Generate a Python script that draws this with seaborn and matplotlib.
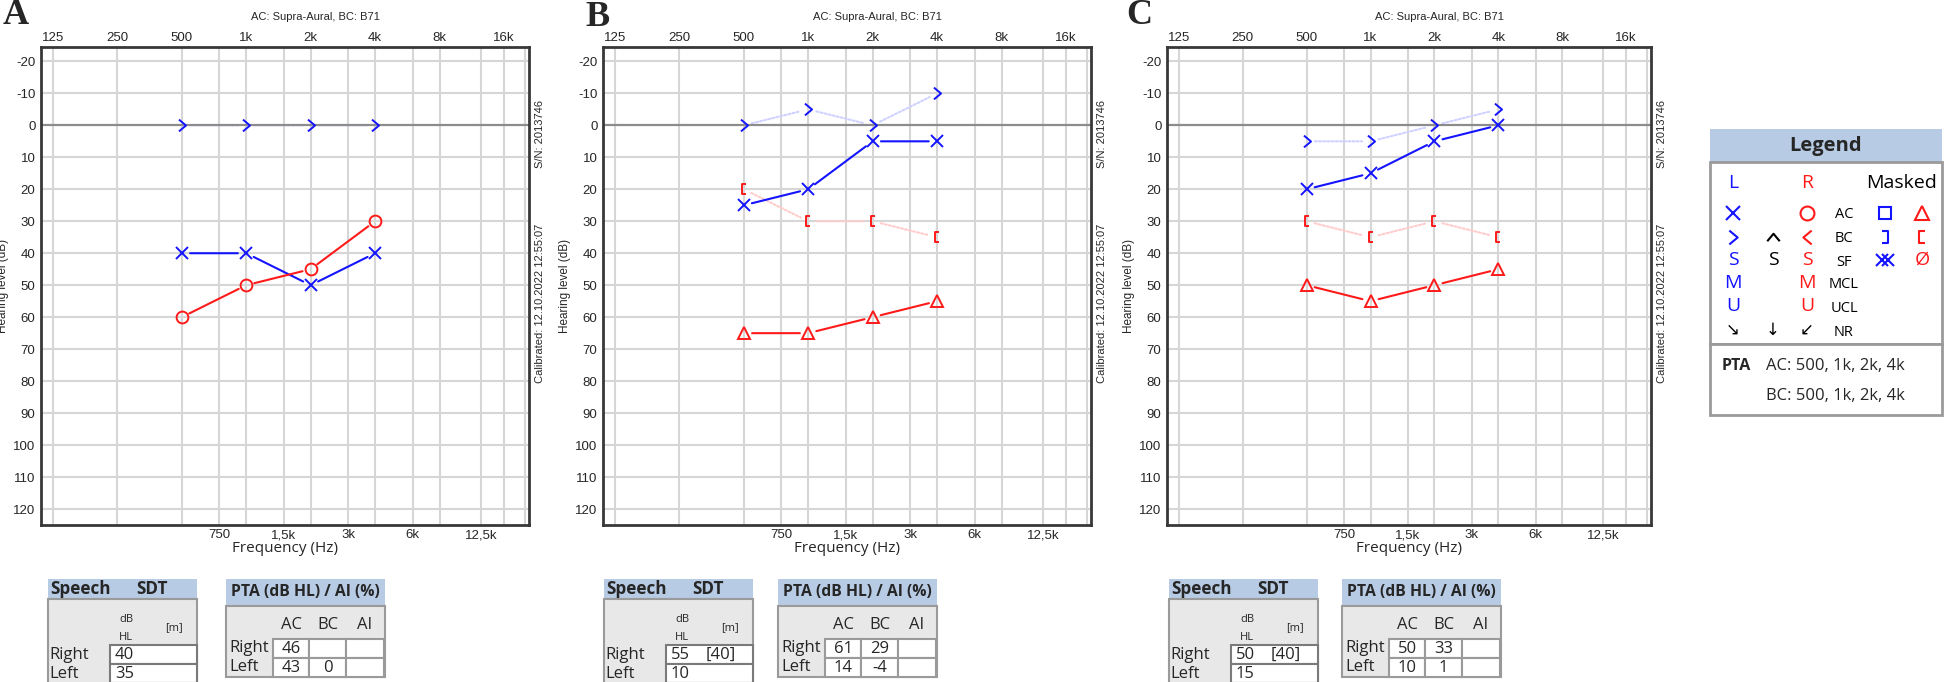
import matplotlib
matplotlib.use("Agg")
import matplotlib.pyplot as plt
from matplotlib.path import Path
from matplotlib.patches import Rectangle
from matplotlib.ticker import NullLocator
import seaborn as sns

# ---- data -------------------------------------------------------------
freqs = [500, 1000, 2000, 4000]

a_left_bc = [0, 0, 0, 0]
a_left_ac = [40, 40, 50, 40]
a_right_ac = [60, 50, 45, 30]

b_left_bc = [0, -5, 0, -10]
b_left_ac = [25, 20, 5, 5]
b_right_bc_masked = [20, 30, 30, 35]
b_right_ac_masked = [65, 65, 60, 55]

c_left_bc = [5, 5, 0, -5]
c_left_ac = [20, 15, 5, 0]
c_right_bc_masked = [30, 35, 30, 35]
c_right_ac_masked = [50, 55, 50, 45]

top_ticks = [125, 250, 500, 1000, 2000, 4000, 8000, 16000]
top_labels = ["125", "250", "500", "1k", "2k", "4k", "8k", "16k"]
bottom_ticks = [750, 1500, 3000, 6000, 12500]
bottom_labels = ["750", "1,5k", "3k", "6k", "12,5k"]
grid_freqs = top_ticks + bottom_ticks + [20000]
levels = list(range(-20, 130, 10))

sdt_right = [["40", ""], ["55", "[40]"], ["50", "[40]"]]
sdt_left = ["35", "10", "15"]
pta_right = [["46", ""], ["61", "29"], ["50", "33"]]
pta_left = [["43", "0"], ["14", "-4"], ["10", "1"]]

# ---- styles -----------------------------------------------------------
BLUE = "#1414ff"
RED = "#ff1a1a"
LBLUE = "#cfd1ff"
LRED = "#ffcccc"
GRID = "#d6d6d6"
ZERO = "#8c8c8c"
SPINE = "#383838"
HEAD = "#b8cbe4"
BODY = "#e8e8e8"
BORDER = "#9a9a9a"
UI = ["Open Sans", "DejaVu Sans"]

CHEV_R = Path([(-0.3, 0.5), (0.3, 0), (-0.3, -0.5)])
CHEV_L = Path([(0.3, 0.5), (-0.3, 0), (0.3, -0.5)])
CHEV_U = Path([(-0.5, -0.3), (0, 0.3), (0.5, -0.3)])
BRACK_L = Path([(0.22, 0.5), (-0.22, 0.5), (-0.22, -0.5), (0.22, -0.5)])
BRACK_R = Path([(-0.22, 0.5), (0.22, 0.5), (0.22, -0.5), (-0.22, -0.5)])

STYLE = {
    "bc_l": dict(color=BLUE, marker=CHEV_R, ms=8.5, line=LBLUE, ls=(0, (1, 1)), z=1.4),
    "ac_l": dict(color=BLUE, marker="x", ms=8.5, line=BLUE, ls="-", z=3),
    "ac_r": dict(color=RED, marker="o", ms=8.5, line=RED, ls="-", z=3),
    "bcm_r": dict(color=RED, marker=BRACK_L, ms=7.5, line=LRED, ls=(0, (1, 1)), z=1.4),
    "acm_r": dict(color=RED, marker="^", ms=8.5, line=RED, ls="-", z=3),
}

panels = [
    ("A", [(a_left_bc, "bc_l"), (a_left_ac, "ac_l"), (a_right_ac, "ac_r")]),
    ("B", [(b_left_bc, "bc_l"), (b_left_ac, "ac_l"),
           (b_right_bc_masked, "bcm_r"), (b_right_ac_masked, "acm_r")]),
    ("C", [(c_left_bc, "bc_l"), (c_left_ac, "ac_l"),
           (c_right_bc_masked, "bcm_r"), (c_right_ac_masked, "acm_r")]),
]

# pixel layout of the three audiograms (left, right), tables and letters
W, H = 1944, 682
ax_x = [(41, 529), (603, 1091), (1167, 1651)]
ax_top, ax_bot = 47, 525
letter_pos = [(16, 16), (597, 17), (1139, 15)]
speech_x = [48, 604, 1169]
pta_x = [226, 778, 1342]

sns.set_style("white")
plt.rcParams["font.family"] = ["Liberation Sans", "DejaVu Sans"]

fig = plt.figure(figsize=(W / 100, H / 100), dpi=100)


def connect(ax, xs, ys, color, ls, z):
    for i in range(len(xs) - 1):
        ax.annotate("", xy=(xs[i + 1], ys[i + 1]), xytext=(xs[i], ys[i]),
                    arrowprops=dict(arrowstyle="-", color=color, lw=1.5, ls=ls,
                                    shrinkA=6, shrinkB=6),
                    zorder=z, annotation_clip=False)


for (letter, series), (l, r) in zip(panels, ax_x):
    ax = fig.add_axes([l / W, 1 - ax_bot / H, (r - l) / W, (ax_bot - ax_top) / H])
    ax.set_xscale("log", base=2)
    ax.set_xlim(110, 20950)
    ax.set_ylim(125, -24.5)
    for f in grid_freqs:
        ax.axvline(f, color=GRID, lw=1.5, zorder=0.5)
    for lv in levels:
        if lv == 0:
            ax.axhline(lv, color=ZERO, lw=1.6, zorder=1.6)
        else:
            ax.axhline(lv, color=GRID, lw=1.5, zorder=0.5)

    for vals, key in series:
        st = STYLE[key]
        connect(ax, freqs, vals, st["line"], st["ls"], st["z"])
        sns.lineplot(x=freqs, y=vals, ax=ax, estimator=None, color=st["color"],
                     marker=st["marker"], markersize=st["ms"], linestyle="none",
                     mfc="none", mec=st["color"], mew=1.4, zorder=4, legend=False)

    ax.set_xticks(bottom_ticks, bottom_labels)
    ax.xaxis.set_minor_locator(NullLocator())
    ax.set_yticks(levels, [str(v) for v in levels])
    ax.tick_params(length=0, labelsize=9.5, pad=3)
    ax.tick_params(axis="y", pad=4)
    sec = ax.secondary_xaxis("top")
    sec.set_xticks(top_ticks, top_labels)
    sec.xaxis.set_minor_locator(NullLocator())
    sec.tick_params(length=0, labelsize=9.5, pad=2)
    sec.spines["top"].set_visible(False)
    for sp in ax.spines.values():
        sp.set_color(SPINE)
        sp.set_linewidth(2)

    ax.set_xlabel("Frequency (Hz)", fontsize=11, family=UI, labelpad=0)
    ax.set_ylabel("Hearing level (dB)", fontsize=8.5, labelpad=3)
    ax.annotate("AC: Supra-Aural, BC: B71", xy=(0.563, 1), xycoords="axes fraction",
                xytext=(0, 21.5), textcoords="offset points", ha="center",
                va="center", fontsize=8)
    ax.annotate("S/N: 2013746", xy=(1, 0.818), xycoords="axes fraction",
                xytext=(8, 0), textcoords="offset points", ha="center",
                va="center", rotation=90, fontsize=8)
    ax.annotate("Calibrated: 12.10.2022 12:55:07", xy=(1, 0.464),
                xycoords="axes fraction", xytext=(8, 0), textcoords="offset points",
                ha="center", va="center", rotation=90, fontsize=8)

# ---- overlay: letters, tables, legend ---------------------------------
ov = fig.add_axes([0, 0, 1, 1])
ov.set_xlim(0, W)
ov.set_ylim(H, 0)
ov.axis("off")

for (letter, _), (lx, ly) in zip(panels, letter_pos):
    ov.text(lx, ly, letter, family="Liberation Serif", fontweight="bold",
            fontsize=26, ha="center", va="center")


def speech_table(x0, rv, lv):
    top, w = 579, 149
    ov.add_patch(Rectangle((x0, top), w, 20, fc=HEAD, ec="none"))
    ov.add_patch(Rectangle((x0, top + 20), w, 90, fc=BODY, ec=BORDER, lw=1.5))
    ov.text(x0 + 2, top + 10, "Speech", family=UI, fontweight="bold", fontsize=12.3,
            va="center")
    ov.text(x0 + 104, top + 10, "SDT", family=UI, fontweight="bold", fontsize=12.3,
            va="center", ha="center")
    ov.text(x0 + 78, 620, "dB", family=UI, fontsize=8, ha="center", va="center")
    ov.text(x0 + 78, 637, "HL", family=UI, fontsize=8, ha="center", va="center")
    ov.text(x0 + 126, 628, "[m]", family=UI, fontsize=8, ha="center", va="center")
    for y0, lab in [(645, "Right"), (664, "Left")]:
        ov.add_patch(Rectangle((x0 + 62, y0), w - 62, 19, fc="white", ec="#7a7a7a",
                               lw=1.5))
        ov.text(x0 + 1, y0 + 10, lab, family=UI, fontsize=12, va="center")
    ov.add_patch(Rectangle((x0 + 62, 683), w - 62, 19, fc="white", ec="#7a7a7a", lw=1.5))
    ov.text(x0 + 67, 655, rv[0], family=UI, fontsize=12, va="center")
    ov.text(x0 + 102, 655, rv[1], family=UI, fontsize=12, va="center")
    ov.text(x0 + 67, 674, lv, family=UI, fontsize=12, va="center")


def pta_table(x0, rv, lv):
    top, w = 579, 159
    ov.add_patch(Rectangle((x0, top), w, 27, fc=HEAD, ec="none"))
    ov.add_patch(Rectangle((x0, top + 27), w, 71, fc=BODY, ec=BORDER, lw=1.5))
    ov.text(x0 + w / 2, top + 13, "PTA (dB HL) / AI (%)", family=UI,
            fontweight="bold", fontsize=11.3, ha="center", va="center")
    edges = [47, 83, 120, 158]
    for i, lab in enumerate(["AC", "BC", "AI"]):
        ov.text(x0 + (edges[i] + edges[i + 1]) / 2, 625, lab, family=UI, fontsize=12,
                ha="center", va="center")
    for y0, lab, vals in [(639, "Right", rv), (658, "Left", lv)]:
        ov.text(x0 + 3, y0 + 9, lab, family=UI, fontsize=12, va="center")
        for i in range(3):
            ov.add_patch(Rectangle((x0 + edges[i], y0), edges[i + 1] - edges[i], 19,
                                   fc="white", ec=BORDER, lw=1.5))
            txt = vals[i] if i < len(vals) else ""
            ov.text(x0 + (edges[i] + edges[i + 1]) / 2, y0 + 10, txt, family=UI,
                    fontsize=12, ha="center", va="center")


for i in range(3):
    speech_table(speech_x[i], sdt_right[i], sdt_left[i])
    pta_table(pta_x[i], pta_right[i], pta_left[i])

# legend box
LX0, LX1 = 1710, 1942
ov.add_patch(Rectangle((LX0, 129), LX1 - LX0, 33, fc=HEAD, ec="none"))
ov.text((LX0 + LX1) / 2, 146, "Legend", family=UI, fontweight="bold", fontsize=14.5,
        ha="center", va="center")
ov.add_patch(Rectangle((LX0, 162), LX1 - LX0, 182, fc="white", ec=BORDER, lw=2))
ov.add_patch(Rectangle((LX0, 344), LX1 - LX0, 71, fc="white", ec=BORDER, lw=2))

rows = [183, 213, 237, 260, 283, 306, 330]
cols = [1733, 1773, 1807, 1844, 1885, 1922]


def lmark(x, y, marker, color, ms):
    ov.plot([x], [y], marker=marker, ms=ms, mfc="none", mec=color, mew=1.5, ls="none")


def ltext(x, y, s, color="black", size=14, family=UI):
    ov.text(x, y, s, color=color, fontsize=size, family=family, ha="center",
            va="center")


ltext(cols[0], rows[0], "L", BLUE)
ltext(cols[2], rows[0], "R", RED)
ltext(1902, rows[0], "Masked")
lmark(cols[0], rows[1], "x", BLUE, 10)
lmark(cols[2], rows[1], "o", RED, 10)
lmark(cols[4], rows[1], "s", BLUE, 9)
lmark(cols[5], rows[1], "^", RED, 10)
lmark(cols[0], rows[2], CHEV_R, BLUE, 10)
lmark(cols[1], rows[2], CHEV_U, "black", 9)
lmark(cols[2], rows[2], CHEV_L, RED, 10)
lmark(cols[4], rows[2], BRACK_R, BLUE, 9)
lmark(cols[5], rows[2], BRACK_L, RED, 9)
lmark(cols[4] - 3, rows[3], "x", BLUE, 9)
lmark(cols[4] + 3, rows[3], "x", BLUE, 9)
ltext(cols[5], rows[3], "Ø", RED)
for j, letter in zip([3, 4, 5], ["S", "M", "U"]):
    ltext(cols[0], rows[j], letter, BLUE)
    ltext(cols[2], rows[j], letter, RED)
ltext(cols[1], rows[3], "S")
ltext(cols[0], rows[6], "↘", size=12, family=["DejaVu Sans"])
ltext(cols[1], rows[6], "↓", size=12, family=["DejaVu Sans"])
ltext(cols[2], rows[6], "↙", size=12, family=["DejaVu Sans"])
for j, lab in zip(range(1, 7), ["AC", "BC", "SF", "MCL", "UCL", "NR"]):
    ltext(cols[3], rows[j] + 2, lab, size=10.5)
ov.text(1722, 366, "PTA", family=UI, fontweight="bold", fontsize=11.5, va="center")
ov.text(1766, 366, "AC: 500, 1k, 2k, 4k", family=UI, fontsize=12, va="center")
ov.text(1766, 396, "BC: 500, 1k, 2k, 4k", family=UI, fontsize=12, va="center")

fig.savefig("out.png", dpi=100)
